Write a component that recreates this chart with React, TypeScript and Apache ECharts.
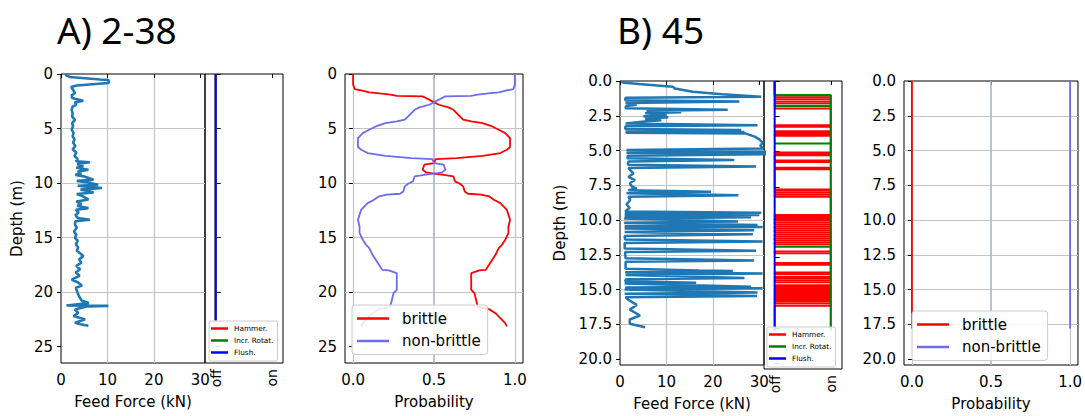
import React, { useEffect, useRef } from "react";
import * as echarts from "echarts";

// ---------- Panel A (2-38) ----------
// feed force [kN, depth m]
const feedA: number[][] = [
  [0.9, 0.06], [1.9, 0.28], [8.4, 0.5], [10.2, 0.55], [10.3, 0.75], [10.2, 0.83], [3.4, 1.05], [2.2, 1.2],
  [2.6, 1.45], [3.0, 1.75], [2.3, 1.95], [2.4, 2.2], [4.8, 2.45], [3.0, 2.6], [3.3, 2.8], [2.5, 3.0],
  [2.3, 3.28], [2.5, 3.6], [2.4, 3.9], [3.0, 4.2], [2.4, 4.5], [2.6, 4.8], [2.3, 5.1], [2.7, 5.4],
  [2.5, 5.7], [2.9, 6.0], [2.6, 6.3], [3.1, 6.6], [2.5, 6.9], [3.3, 7.2], [2.9, 7.5], [3.6, 7.8],
  [3.2, 8.0], [6.2, 8.1], [3.5, 8.25], [4.8, 8.45], [3.3, 8.6], [5.9, 8.78], [3.6, 8.95], [4.4, 9.1],
  [3.1, 9.25], [5.0, 9.4], [7.0, 9.7], [3.4, 9.8], [5.8, 9.95], [8.0, 10.15], [3.6, 10.25], [6.0, 10.35],
  [8.8, 10.46], [4.2, 10.6], [5.5, 10.7], [7.0, 10.86], [3.4, 11.0], [4.6, 11.2], [5.9, 11.5], [3.3, 11.7],
  [4.4, 11.9], [3.5, 12.1], [5.9, 12.3], [3.2, 12.45], [3.8, 12.7], [3.1, 12.95], [3.6, 13.2], [6.2, 13.37],
  [3.1, 13.5], [3.0, 13.8], [3.4, 14.1], [2.8, 14.45], [3.3, 14.75], [3.0, 15.0], [3.6, 15.3], [3.2, 15.6],
  [3.7, 15.9], [3.4, 16.2], [4.3, 16.5], [4.8, 16.7], [3.9, 17.0], [4.4, 17.3], [3.3, 17.6], [4.1, 17.9],
  [3.2, 18.2], [4.0, 18.5], [2.3, 18.85], [3.6, 19.1], [4.5, 19.4], [3.2, 19.6], [3.5, 20.0], [3.9, 20.4],
  [4.5, 20.8], [6.0, 21.0], [1.2, 21.22], [10.2, 21.26], [5.5, 21.32], [3.0, 21.6], [3.7, 21.9], [2.7, 22.2],
  [5.2, 22.5], [3.0, 22.8], [4.2, 22.95], [5.9, 23.08],
];

// flags A: state (0 = off, 1 = on) at depths
const flagDepthA = [0, 22.6];
const hammerA = [0, 0];
const rotA = [0, 0];
const flushA = [0, 0];

// probabilities A
const probDepthA = [
  0, 0.98, 1.38, 1.5, 1.68, 1.75, 1.9, 2.0, 2.05, 2.2, 2.51, 2.82, 3.06, 3.28, 3.58, 3.89, 4.19, 4.35, 4.5, 4.81,
  5.11, 5.42, 5.87, 6.33, 6.7, 6.94, 7.25, 7.5, 7.71, 7.8, 8.17, 8.32, 8.78, 9.02, 9.15, 9.24, 9.39, 9.85, 10.06, 10.3,
  10.77, 10.98, 11.07, 11.22, 11.53, 11.84, 12.14, 12.45, 12.9, 13.37, 13.98, 14.59, 15.2, 15.66, 15.96, 16.58, 17.03, 17.5, 17.96, 18.0,
  18.26, 18.87, 19.79, 20.1, 20.7, 21.32, 21.47, 21.56, 21.93, 22.39, 22.85, 23.15,
];
const brittleA = [
  0, 0, 0.01, 0.05, 0.1, 0.15, 0.23, 0.27, 0.43, 0.45, 0.49, 0.53, 0.59, 0.62, 0.64, 0.66, 0.68, 0.73, 0.8, 0.86,
  0.9, 0.94, 0.97, 0.97, 0.97, 0.95, 0.91, 0.8, 0.64, 0.51, 0.5, 0.44, 0.43, 0.45, 0.51, 0.56, 0.62, 0.63, 0.66, 0.68,
  0.69, 0.71, 0.79, 0.84, 0.87, 0.91, 0.93, 0.95, 0.96, 0.97, 0.96, 0.96, 0.94, 0.92, 0.9, 0.88, 0.86, 0.84, 0.82, 0.78,
  0.73, 0.73, 0.73, 0.75, 0.76, 0.77, 0.8, 0.84, 0.88, 0.91, 0.94, 0.95,
];
const nonBrittleA = [
  1, 1, 0.99, 0.95, 0.9, 0.85, 0.77, 0.73, 0.57, 0.55, 0.51, 0.47, 0.41, 0.38, 0.36, 0.34, 0.32, 0.27, 0.2, 0.14,
  0.1, 0.06, 0.03, 0.03, 0.03, 0.05, 0.09, 0.2, 0.36, 0.49, 0.5, 0.56, 0.57, 0.55, 0.49, 0.44, 0.38, 0.37, 0.34, 0.32,
  0.31, 0.29, 0.21, 0.16, 0.13, 0.09, 0.07, 0.05, 0.04, 0.03, 0.04, 0.04, 0.06, 0.08, 0.1, 0.12, 0.14, 0.16, 0.18, 0.22,
  0.27, 0.27, 0.27, 0.25, 0.24, 0.23, 0.2, 0.16, 0.12, 0.09, 0.06, 0.05,
];

// ---------- Panel B (45) ----------
const feedB: number[][] = [
  [0.4, 0.0], [0.5, 0.1], [4, 0.22], [11.4, 0.42], [11.8, 0.54], [15.7, 0.78], [22, 0.95], [30.4, 1.13],
  [1.2, 1.2], [1.1, 1.38], [25.7, 1.48], [1.2, 1.58], [3.6, 1.7], [1.3, 1.8], [1.2, 1.96],
  [23.2, 2.07], [5.7, 2.14], [13.2, 2.24], [5.4, 2.31], [10.0, 2.43], [5.0, 2.54], [10.4, 2.61], [5.4, 2.73], [8.9, 2.83], [5.7, 2.9],
  [1.2, 3.05], [29.6, 3.18], [1.2, 3.26], [1.1, 3.45], [26.1, 3.52], [1.2, 3.6], [26.8, 3.66], [1.2, 3.72], [27.1, 3.78],
  [29.0, 4.0], [30.0, 4.2], [30.7, 4.43], [30.2, 4.66], [30.9, 4.85],
  [1.4, 4.97], [31.5, 5.08], [1.4, 5.16], [31.5, 5.27], [1.7, 5.37], [1.6, 5.55], [24.6, 5.68], [1.8, 5.78], [1.7, 6.02], [29.3, 6.15], [1.8, 6.25],
  [2.3, 6.45], [2.9, 6.65], [1.8, 6.9], [3.2, 7.12], [2.1, 7.35], [2.6, 7.6], [3.6, 7.72], [1.8, 7.85], [19.6, 7.97], [1.4, 8.07],
  [25.5, 8.22], [1.8, 8.32], [2.2, 8.55], [1.4, 8.88], [2.1, 9.12], [1.1, 9.38],
  [30.4, 9.47], [1.0, 9.55], [30.0, 9.63], [1.0, 9.7], [28.2, 9.8], [0.9, 9.88], [25.4, 10.1], [0.9, 10.2], [29.6, 10.35], [1.0, 10.42],
  [30.7, 10.5], [1.0, 10.6], [28.9, 10.74], [1.0, 10.85], [28.6, 11.02], [1.0, 11.15], [1.1, 11.4], [30.7, 11.54], [1.0, 11.65],
  [1.0, 12.05], [29.3, 12.2], [1.1, 12.3], [1.2, 12.75], [28.9, 12.9], [1.2, 13.0], [1.2, 13.5], [17, 13.62], [24.3, 13.66], [1.1, 13.75],
  [30.7, 13.85], [1.2, 13.95], [26.8, 14.16], [1.3, 14.25], [1.1, 14.4], [16.4, 14.5], [1.0, 14.56], [28.2, 14.79], [1.1, 14.85],
  [30.7, 14.91], [1.0, 15.0], [29.6, 15.21], [1.0, 15.3], [29.5, 15.45], [1.2, 15.55],
  [1.8, 15.73], [3.6, 16.1], [2.1, 16.44], [4.3, 16.86], [2.1, 17.15], [2.1, 17.45], [5.4, 17.7],
];

// flags B
const hammerToggleB = [
  1.15, 1.29, 1.44, 1.58, 1.95, 3.13, 3.25, 3.55, 3.65, 3.77, 3.89, 5.06, 5.16, 5.27, 5.63, 5.75, 6.15, 6.26,
  7.68, 7.79, 7.93, 8.07, 8.22, 9.49, 9.61, 9.73, 9.87, 10.01, 10.15, 10.29, 10.43, 10.57, 10.71, 10.86, 11.0,
  11.14, 11.28, 11.42, 11.56, 12.08, 12.22, 12.9, 13.03, 13.57, 13.69, 13.88, 14.0, 14.14, 14.28, 14.47, 14.59,
  14.7, 14.82, 14.94, 15.06, 15.18, 15.29, 15.41, 15.53, 15.65, 15.79, 15.94,
];
const flagEndB = 17.7;
const rotDepthB = [0, 1.0, 1.0, 1.77, 1.77, 1.77, 4.43, 4.43, 4.43, 11.75, 11.75, 11.75, 17.7];
const rotStateB = [0, 0, 1, 1, 0, 1, 1, 0, 1, 1, 0, 1, 1];
const flushDepthB = [0, 17.7];
const flushStateB = [0, 0];

// probabilities B
const probDepthB = [0, 17.8];
const brittleB = [0, 0];
const nonBrittleB = [1, 1];

// ticks
const yTicksA = [0, 5, 10, 15, 20, 25];
const yTicksB = [0, 2.5, 5, 7.5, 10, 12.5, 15, 17.5, 20];
const feedTicks = [0, 10, 20, 30];
const probTicks = [0, 0.5, 1];
const flagTicks = [0, 1];
const flagLabels = ["off", "on"];

const FONT = "DejaVu Sans";
const GRID_COLOR = "#c4c4c4";
const FEED_COLOR = "#1f77b4";
const NB_COLOR = "#6c6cec";

const pairs = (xs: number[], ys: number[]) => xs.map((x, i) => [x, ys[i]]);
const togglePath = (depths: number[], end: number) => {
  const pts: number[][] = [[0, 0]];
  let s = 0;
  for (const d of depths) {
    pts.push([s, d]);
    s = 1 - s;
    pts.push([s, d]);
  }
  pts.push([s, end]);
  return pts;
};

const labelStyle = { fontFamily: FONT, fontSize: 15, color: "#000" };

function yAxis(grid: number, max: number, ticks: number[], opt: any) {
  return {
    type: "value",
    gridIndex: grid,
    inverse: true,
    min: 0,
    max,
    interval: ticks[1] - ticks[0],
    axisLine: { show: false },
    axisTick: {
      show: true,
      inside: !!opt.inside,
      length: opt.inside ? 5 : 4,
      customValues: ticks,
      lineStyle: { color: "#000", width: 1 },
    },
    axisLabel: {
      show: !!opt.labels,
      customValues: ticks,
      formatter: (v: number) => (opt.digits ? v.toFixed(1) : String(v)),
      margin: 8,
      ...labelStyle,
    },
    splitLine: {
      show: !opt.inside,
      showMinLine: false,
      showMaxLine: false,
      lineStyle: { color: GRID_COLOR, width: 1.2 },
    },
    name: opt.name || "",
    nameLocation: "middle",
    nameGap: opt.nameGap || 30,
    nameTextStyle: labelStyle,
  };
}

function feedX(grid: number, nameGap: number) {
  return {
    type: "value",
    gridIndex: grid,
    min: 0,
    max: 31,
    interval: 10,
    axisLine: { show: false },
    axisTick: { show: true, length: 4, customValues: feedTicks, lineStyle: { color: "#000" } },
    axisLabel: { customValues: feedTicks, margin: 9, ...labelStyle },
    splitLine: { show: true, showMinLine: false, showMaxLine: false, lineStyle: { color: GRID_COLOR, width: 1.2 } },
    name: "Feed Force (kN)",
    nameLocation: "middle",
    nameGap,
    nameTextStyle: labelStyle,
  };
}

function flagX(grid: number) {
  return {
    type: "value",
    gridIndex: grid,
    min: -0.19,
    max: 1.2,
    axisLine: { show: false },
    axisTick: { show: true, length: 4, customValues: flagTicks, lineStyle: { color: "#000" } },
    axisLabel: {
      customValues: flagTicks,
      rotate: 90,
      margin: 6,
      formatter: (v: number) => flagLabels[flagTicks.indexOf(v)] || "",
      fontFamily: FONT,
      fontSize: 14,
      color: "#000",
    },
    splitLine: { show: false },
  };
}

function probX(grid: number, nameGap: number) {
  return {
    type: "value",
    gridIndex: grid,
    min: -0.05,
    max: 1.05,
    axisLine: { show: false },
    axisTick: { show: true, length: 4, customValues: probTicks, lineStyle: { color: "#000" } },
    axisLabel: { customValues: probTicks, margin: 9, formatter: (v: number) => v.toFixed(1), ...labelStyle },
    splitLine: { show: false },
    name: "Probability",
    nameLocation: "middle",
    nameGap,
    nameTextStyle: labelStyle,
  };
}

const frame = { show: true, borderColor: "#000", borderWidth: 1, backgroundColor: "transparent" };

function lineSeries(name: string, x: number, data: number[][], color: string, width: number, z = 2) {
  return {
    type: "line",
    name,
    xAxisIndex: x,
    yAxisIndex: x,
    data,
    showSymbol: false,
    symbol: "none",
    z,
    silent: true,
    color,
    lineStyle: { color, width },
  };
}

function probGridSeries(x: number) {
  return {
    type: "line",
    name: "_grid" + x,
    xAxisIndex: x,
    yAxisIndex: x,
    data: [[0.5, 0]],
    showSymbol: false,
    symbol: "none",
    z: 1,
    lineStyle: { width: 0 },
    markLine: {
      silent: true,
      z: 1,
      symbol: ["none", "none"],
      label: { show: false },
      data: [
        { xAxis: 0, lineStyle: { color: GRID_COLOR, width: 1.2, type: "solid" } },
        { xAxis: 1, lineStyle: { color: GRID_COLOR, width: 1.2, type: "solid" } },
        { xAxis: 0.5, lineStyle: { color: "#a5b6c8", width: 1.6, type: "solid" } },
      ],
    },
  };
}

function flagLegend(left: number, top: number) {
  return {
    left,
    top,
    orient: "vertical",
    selectedMode: false,
    data: ["Hammer.", "Incr. Rotat.", "Flush."],
    icon: "rect",
    itemWidth: 17,
    itemHeight: 2.5,
    itemGap: 3,
    padding: [3, 4, 4, 2],
    backgroundColor: "rgba(255,255,255,0.85)",
    borderColor: "#cccccc",
    borderWidth: 1,
    borderRadius: 2,
    textStyle: { fontFamily: FONT, fontSize: 7.3, color: "#000", lineHeight: 9, padding: [0, 0, 0, 1] },
  };
}

function probLegend(left: number, top: number) {
  return {
    left,
    top,
    orient: "vertical",
    selectedMode: false,
    data: ["brittle", "non-brittle"],
    icon: "rect",
    itemWidth: 32,
    itemHeight: 2.5,
    itemGap: 5.5,
    padding: [5, 7, 5, 5],
    backgroundColor: "rgba(255,255,255,0.85)",
    borderColor: "#cccccc",
    borderWidth: 1,
    borderRadius: 3,
    textStyle: { fontFamily: FONT, fontSize: 15, color: "#000", lineHeight: 17, padding: [0, 0, 0, 8] },
  };
}

export default function App() {
  const ref = useRef<HTMLDivElement>(null);
  useEffect(() => {
    if (!ref.current) return;
    const chart = echarts.init(ref.current, undefined, { renderer: "svg" });
    const titleStyle = { fontFamily: "Noto Sans", fontSize: 37, fontWeight: "normal", color: "#000" };
    chart.setOption({
      animation: false,
      title: [
        { text: "A) 2-38", left: 52, top: 6, textStyle: titleStyle },
        { text: "B) 45", left: 612, top: 6, textStyle: titleStyle },
      ],
      grid: [
        { left: 61, top: 74, width: 144, height: 289, ...frame },
        { left: 205, top: 74, width: 78, height: 289, ...frame },
        { left: 345, top: 74, width: 178, height: 289, ...frame },
        { left: 620, top: 81, width: 144, height: 288, ...frame },
        { left: 764, top: 81, width: 78, height: 288, ...frame },
        { left: 904, top: 81, width: 179, height: 288, ...frame },
      ],
      xAxis: [feedX(0, 31), flagX(1), probX(2, 31), feedX(3, 31), flagX(4), probX(5, 31)],
      yAxis: [
        yAxis(0, 26.5, yTicksA, { labels: true, name: "Depth (m)", nameGap: 37 }),
        yAxis(1, 26.5, yTicksA, { inside: true }),
        yAxis(2, 26.5, yTicksA, { labels: true }),
        yAxis(3, 20.42, yTicksB, { labels: true, digits: true, name: "Depth (m)", nameGap: 53 }),
        yAxis(4, 20.42, yTicksB, { inside: true }),
        yAxis(5, 20.42, yTicksB, { labels: true, digits: true }),
      ],
      legend: [flagLegend(209, 321), probLegend(352, 305), flagLegend(767, 327), probLegend(912, 311)],
      series: [
        lineSeries("feedA", 0, feedA, FEED_COLOR, 2.6),
        lineSeries("Hammer.", 1, pairs(hammerA, flagDepthA), "#ff0000", 2),
        lineSeries("Incr. Rotat.", 1, pairs(rotA, flagDepthA), "#008000", 2),
        lineSeries("Flush.", 1, pairs(flushA, flagDepthA), "#0000ff", 2),
        probGridSeries(2),
        lineSeries("brittle", 2, pairs(brittleA, probDepthA), "#ff0000", 1.8),
        lineSeries("non-brittle", 2, pairs(nonBrittleA, probDepthA), NB_COLOR, 1.8),
        lineSeries("feedB", 3, feedB, FEED_COLOR, 2.5),
        lineSeries("Hammer.", 4, togglePath(hammerToggleB, flagEndB), "#ff0000", 1.8),
        lineSeries("Incr. Rotat.", 4, pairs(rotStateB, rotDepthB), "#008000", 2.2),
        lineSeries("Flush.", 4, pairs(flushStateB, flushDepthB), "#0000ff", 2),
        probGridSeries(5),
        lineSeries("brittle", 5, pairs(brittleB, probDepthB), "#ff0000", 1.8),
        lineSeries("non-brittle", 5, pairs(nonBrittleB, probDepthB), NB_COLOR, 1.8),
      ],
    });
    return () => chart.dispose();
  }, []);
  return (
    <div
      ref={ref}
      style={{ position: "absolute", left: 0, top: 0, width: 1085, height: 416, background: "#fff" }}
    />
  );
}
